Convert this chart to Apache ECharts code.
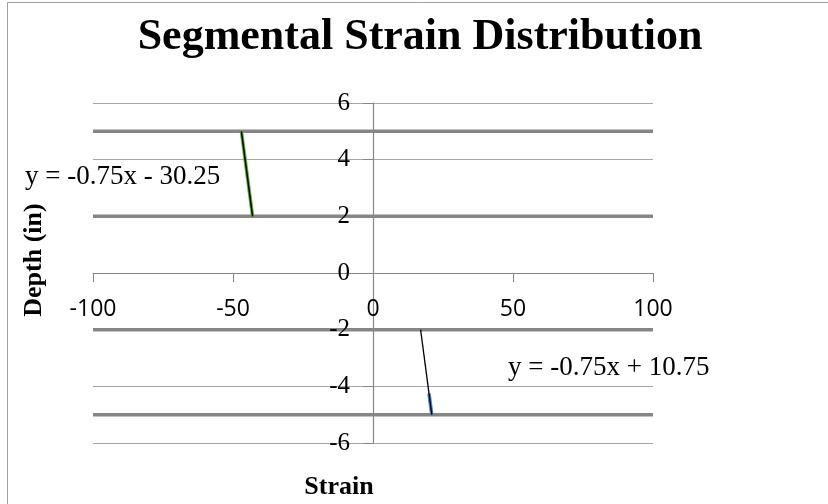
<!DOCTYPE html>
<html>
<head>
<meta charset="utf-8">
<script src="https://cdn.jsdelivr.net/npm/echarts@6/dist/echarts.min.js"></script>
<style>
html,body{margin:0;padding:0;background:#fff;}
#chart{width:828px;height:504px;}
</style>
</head>
<body>
<div id="chart"></div>
<script>
// ---- data ----
var titleText = 'Segmental Strain Distribution';
var xTitle = 'Strain';
var yTitle = 'Depth (in)';
var xTicks = [-100, -50, 0, 50, 100];
var yTicks = [-6, -4, -2, 0, 2, 4, 6];
var segmentDepths = [5, 2, -2, -5];
var segmentStrainRange = [-100, 100];
// upper segment data (green) and its trendline
var upperStrain = [-47, -43];
var upperDepth = [5, 2];
var upperTrendStrain = [-47, -43];
var upperTrendDepth = [5, 2];
var upperEquation = 'y = -0.75x - 30.25';
// lower segment data (blue) and its trendline
var lowerStrain = [20, 21];
var lowerDepth = [-4.25, -5];
var lowerTrendStrain = [17, 21];
var lowerTrendDepth = [-2, -5];
var lowerEquation = 'y = -0.75x + 10.75';

function pairs(xs, ys){ return xs.map(function(x,i){ return [x, ys[i]]; }); }

var serif = 'Liberation Serif';
var series = [];
segmentDepths.forEach(function(d){
  series.push({
    type:'line', silent:true, symbol:'none', z:2,
    data: segmentStrainRange.map(function(x){ return [x, d]; }),
    lineStyle:{color:'#868686', width:3.5}
  });
});
series.push({type:'line', symbol:'none', z:3, data:pairs(upperStrain, upperDepth), lineStyle:{color:'#5cb82a', width:3.5}});
series.push({type:'line', symbol:'none', z:4, data:pairs(upperTrendStrain, upperTrendDepth), lineStyle:{color:'#000', width:1.5}});
series.push({type:'line', symbol:'none', z:3, data:pairs(lowerStrain, lowerDepth), lineStyle:{color:'#3a86d0', width:3.5}});
series.push({type:'line', symbol:'none', z:4, data:pairs(lowerTrendStrain, lowerTrendDepth), lineStyle:{color:'#000', width:1.3}});

var gridL = 93, gridR = 175, gridT = 103, gridB = 61;
var plotW = 828 - gridL - gridR, plotH = 504 - gridT - gridB;
// offsets that move axes from the grid edge to the zero crossing
var xAxisOffset = -plotH * (0 - yTicks[0]) / (yTicks[yTicks.length-1] - yTicks[0]);
var yAxisOffset = -plotW * (0 - xTicks[0]) / (xTicks[xTicks.length-1] - xTicks[0]);

var yBase = {
  type:'value', min:yTicks[0], max:yTicks[yTicks.length-1], interval:2,
  position:'left', offset:yAxisOffset
};

var chart = echarts.init(document.getElementById('chart'), null, {renderer:'canvas'});
chart.setOption({
  animation:false,
  backgroundColor:'#fff',
  grid:{left:gridL, right:gridR, top:gridT, bottom:gridB, containLabel:false},
  xAxis:{
    type:'value', min:xTicks[0], max:xTicks[xTicks.length-1], interval:50,
    position:'bottom', offset:xAxisOffset, z:10,
    axisLine:{onZero:false, lineStyle:{color:'#868686', width:1.2}},
    axisTick:{show:true, inside:false, length:9, lineStyle:{color:'#868686'}},
    splitLine:{show:false},
    axisLabel:{fontFamily:'Open Sans', fontSize:23, color:'#000', margin:25}
  },
  yAxis:[
    Object.assign({}, yBase, {
      z:0,
      axisLine:{onZero:false, lineStyle:{color:'#868686', width:1.2}},
      axisTick:{show:true, inside:false, length:10, lineStyle:{color:'#868686'}},
      splitLine:{show:true, lineStyle:{color:'#a6a6a6', width:1.2}},
      axisLabel:{show:false}
    }),
    Object.assign({}, yBase, {
      z:10,
      axisLine:{show:false, onZero:false},
      axisTick:{show:false},
      splitLine:{show:false},
      axisLabel:{fontFamily:serif, fontSize:25, color:'#000', margin:23}
    })
  ],
  series: series,
  graphic:[
    {type:'rect', shape:{x:7.5, y:2.5, width:900, height:600}, style:{fill:'none', stroke:'#a0a0a0', lineWidth:1}, silent:true, z:-1},
    {type:'text', x:420, y:38, style:{text:titleText, font:'bold 44px "Liberation Serif"', fill:'#000', textAlign:'center', textVerticalAlign:'middle'}, z:10},
    {type:'text', x:339, y:487, style:{text:xTitle, font:'bold 26px "Liberation Serif"', fill:'#000', textAlign:'center', textVerticalAlign:'middle'}, z:10},
    {type:'text', x:34, y:260, rotation:Math.PI/2, style:{text:yTitle, font:'bold 26px "Liberation Serif"', fill:'#000', textAlign:'center', textVerticalAlign:'middle'}, z:10},
    {type:'text', x:25, y:177, style:{text:upperEquation, font:'27px "Liberation Serif"', fill:'#000', textAlign:'left', textVerticalAlign:'middle'}, z:10},
    {type:'text', x:508, y:368, style:{text:lowerEquation, font:'27px "Liberation Serif"', fill:'#000', textAlign:'left', textVerticalAlign:'middle'}, z:10}
  ]
});
</script>
</body>
</html>
